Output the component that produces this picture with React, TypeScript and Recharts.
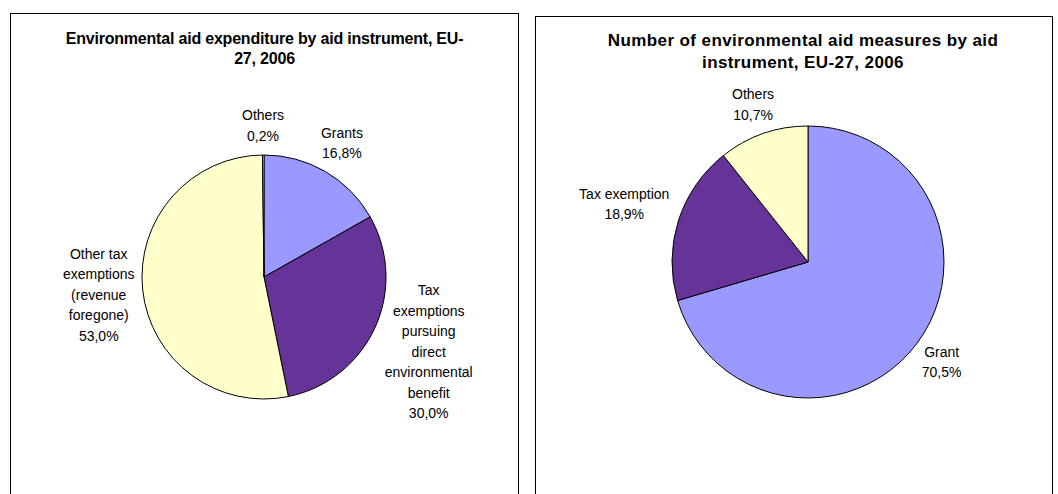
import { PieChart, Pie, Cell } from 'recharts';

const expenditureCategories = [
  'Grants',
  'Tax exemptions pursuing direct environmental benefit',
  'Other tax exemptions (revenue foregone)',
  'Others',
];
const expenditureShares = [16.8, 30.0, 53.0, 0.2];

const measureCategories = ['Grant', 'Tax exemption', 'Others'];
const measureShares = [70.5, 18.9, 10.7];

const expenditureColors = ['#9999FF', '#663399', '#FFFFCC', '#CCFFFF'];
const measureColors = ['#9999FF', '#663399', '#FFFFCC'];

const expenditureData = expenditureCategories.map((name, i) => ({ name, value: expenditureShares[i] }));
const measureData = measureCategories.map((name, i) => ({ name, value: measureShares[i] }));

const FONT = '"Liberation Sans", Arial, sans-serif';
const LABEL_SIZE = 14;
const LINE_H = 20.5;
const GAP = 9;

const wrap = (text: string, maxChars: number) => {
  const lines: string[] = [];
  let cur = '';
  text.split(' ').forEach((w) => {
    if (!cur) cur = w;
    else if ((cur + ' ' + w).length <= maxChars) cur += ' ' + w;
    else {
      lines.push(cur);
      cur = w;
    }
  });
  if (cur) lines.push(cur);
  return lines;
};

const fmt = (v: number) => v.toFixed(1).replace('.', ',') + '%';

const makeLabel = (maxChars: number) => (props: any) => {
  const { cx, cy, midAngle, outerRadius, name, value } = props;
  const lines = [...wrap(name, maxChars), fmt(value)];
  const rad = (midAngle * Math.PI) / 180;
  const c = Math.cos(rad);
  const s = Math.sin(rad);
  const halfW = (Math.max(...lines.map((l) => l.length)) * 7) / 2;
  const halfH = (lines.length * LINE_H) / 2;
  const ext = Math.min(
    Math.abs(c) > 1e-6 ? halfW / Math.abs(c) : Infinity,
    Math.abs(s) > 1e-6 ? halfH / Math.abs(s) : Infinity,
  );
  const d = outerRadius + GAP + ext;
  const x = cx + d * c;
  const y = cy - d * s;
  const top = y - halfH + LINE_H / 2 + LABEL_SIZE * 0.35;
  return (
    <text
      x={x}
      y={top}
      textAnchor="middle"
      fill="#000"
      style={{ fontFamily: FONT, fontSize: LABEL_SIZE }}
    >
      {lines.map((l, i) => (
        <tspan key={i} x={x} y={top + i * LINE_H}>
          {l}
        </tspan>
      ))}
    </text>
  );
};

const boxStyle = (left: number, top: number, width: number): React.CSSProperties => ({
  position: 'absolute',
  left,
  top,
  width,
  height: 494 - top + 10,
  border: '1px solid #000',
  boxSizing: 'border-box',
});

const App = () => {
  return (
    <div
      style={{
        position: 'absolute',
        left: 0,
        top: 0,
        width: 1058,
        height: 494,
        overflow: 'hidden',
        background: '#fff',
        fontFamily: FONT,
      }}
    >
      <div style={boxStyle(10, 13, 509)} />
      <div style={boxStyle(535, 16, 518)} />

      <div
        style={{
          position: 'absolute',
          left: 10,
          width: 509,
          top: 29,
          textAlign: 'center',
          fontWeight: 700,
          fontSize: 16,
          lineHeight: '20px',
          letterSpacing: -0.2,
          color: '#000',
        }}
      >
        <div>Environmental aid expenditure by aid instrument, EU-</div>
        <div>27, 2006</div>
      </div>

      <div
        style={{
          position: 'absolute',
          left: 553,
          width: 500,
          top: 30,
          textAlign: 'center',
          fontWeight: 700,
          fontSize: 17,
          lineHeight: '22px',
          letterSpacing: 0.4,
          color: '#000',
        }}
      >
        <div>Number of environmental aid measures by aid</div>
        <div>instrument, EU-27, 2006</div>
      </div>

      <div style={{ position: 'absolute', left: 0, top: 0 }}>
        <PieChart width={529} height={494} margin={{ top: 0, right: 0, bottom: 0, left: 0 }}>
          <Pie
            data={expenditureData}
            dataKey="value"
            nameKey="name"
            cx={264}
            cy={277}
            outerRadius={122}
            startAngle={90}
            endAngle={-270}
            stroke="#000"
            strokeWidth={1}
            label={makeLabel(10)}
            labelLine={false}
            isAnimationActive={false}
          >
            {expenditureData.map((_, i) => (
              <Cell key={i} fill={expenditureColors[i]} />
            ))}
          </Pie>
        </PieChart>
      </div>

      <div style={{ position: 'absolute', left: 529, top: 0 }}>
        <PieChart width={529} height={494} margin={{ top: 0, right: 0, bottom: 0, left: 0 }}>
          <Pie
            data={measureData}
            dataKey="value"
            nameKey="name"
            cx={279}
            cy={262}
            outerRadius={136}
            startAngle={90}
            endAngle={-270}
            stroke="#000"
            strokeWidth={1}
            label={makeLabel(14)}
            labelLine={false}
            isAnimationActive={false}
          >
            {measureData.map((_, i) => (
              <Cell key={i} fill={measureColors[i]} />
            ))}
          </Pie>
        </PieChart>
      </div>
    </div>
  );
};

export default App;
